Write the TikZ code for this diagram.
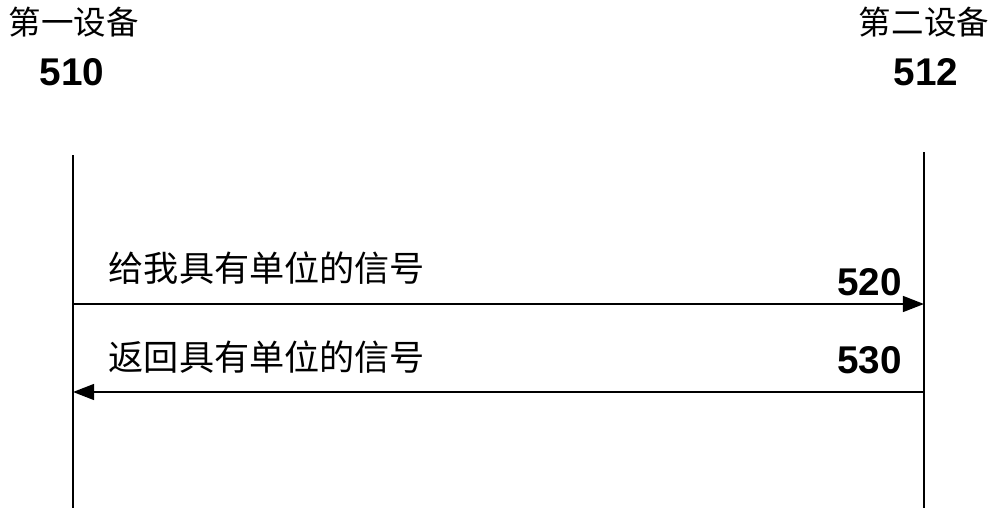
\documentclass[tikz,border=0pt]{standalone}
\usepackage{fontspec}
\setmainfont{Liberation Sans}
\newfontfamily\cjk{Noto Sans CJK SC}
\usetikzlibrary{arrows.meta}
\tikzset{
  lifeline/.style={line width=1.2pt},
  msg/.style={line width=1.2pt, -{Triangle[length=12pt,width=9pt]}},
  devname/.style={font=\cjk\fontsize{18.5}{20}\selectfont},
  devnum/.style={font=\bfseries\fontsize{22}{24}\selectfont},
  msgtext/.style={font=\cjk\fontsize{20}{22}\selectfont, anchor=west},
  msgnum/.style={font=\bfseries\fontsize{22}{24}\selectfont, anchor=east}
}
\begin{document}
\begin{tikzpicture}
    \useasboundingbox (0, 0) rectangle (20, -10.3);
    % devices
    \node[devname] (devA) at (1.48, -0.44) {第一设备};
    \node[devname] (devB) at (18.48, -0.44) {第二设备};
    \node[devnum] (numA) at (1.44, -1.44) {510};
    \node[devnum] (numB) at (18.52, -1.44) {512};

    % lifelines
    \coordinate (topA) at (1.46, -3.1);
    \coordinate (botA) at (1.46, -10.16);
    \coordinate (topB) at (18.48, -3.04);
    \coordinate (botB) at (18.48, -10.16);
    \draw[lifeline] (topA) -- (botA);
    \draw[lifeline] (topB) -- (botB);

    % messages
    \coordinate (reqA) at (1.46, -6.08);
    \coordinate (reqB) at (18.48, -6.08);
    \coordinate (repA) at (1.46, -7.84);
    \coordinate (repB) at (18.48, -7.84);
    \draw[msg] (reqA) -- (reqB);
    \draw[msg] (repB) -- (repA);
    \node[msgtext] (reqtext) at (2.05, -5.36) {给我具有单位的信号};
    \node[msgnum] (reqnum) at (18.16, -5.64) {520};
    \node[msgtext] (reptext) at (2.05, -7.14) {返回具有单位的信号};
    \node[msgnum] (repnum) at (18.16, -7.2) {530};
\end{tikzpicture}
\end{document}
